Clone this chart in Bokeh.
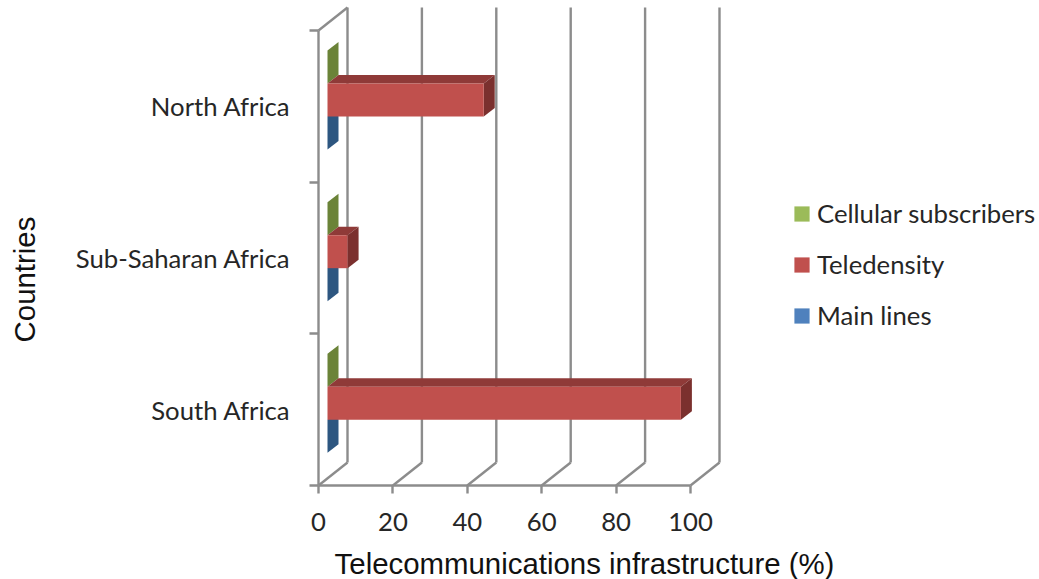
from math import pi
from bokeh.plotting import figure
from bokeh.models import (ColumnDataSource, FixedTicker, Label, Legend, LegendItem,
                          Range1d)
from bokeh.embed import file_html
from bokeh.resources import INLINE

categories = ["South Africa", "Sub-Saharan Africa", "North Africa"]
cellular = [0, 0, 0]
teledensity = [95, 5.4, 42]
main_lines = [0, 0, 0]
x_ticks = [0, 20, 40, 60, 80, 100]

PX_X = 100 / 372
PX_Y = 1 / 151.67
WALL_DX, WALL_DY = 29 * PX_X, 23 * PX_Y
BASE = 9 * PX_X
BAR_DX, BAR_DY = 11 * PX_X, 8.5 * PX_Y
BAR_H = 33 * PX_Y
MID_SHIFT = 6.3 * PX_Y
GRID = "#8c8c8c"
TEXT = "#262626"
SANS = "Lato"
LABEL_SIZE = "25.7px"

p = figure(width=1039, height=579, output_backend="svg", toolbar_location=None,
           x_range=Range1d(-318 * PX_X, 721 * PX_X), y_range=Range1d(-94 * PX_Y, 485 * PX_Y),
           min_border_left=0, min_border_right=0, min_border_top=0, min_border_bottom=0)
p.outline_line_color = None
p.grid.visible = False
p.background_fill_color = None

# walls and floor
n = len(categories)
p.segment([x for x in x_ticks], [0] * 6, [x + WALL_DX for x in x_ticks], [WALL_DY] * 6,
          line_color=GRID, line_width=2.4)
p.segment([x + WALL_DX for x in x_ticks], [WALL_DY] * 6,
          [x + WALL_DX for x in x_ticks], [n + WALL_DY] * 6, line_color=GRID, line_width=2.4)
p.segment([0], [n], [WALL_DX], [n + WALL_DY], line_color=GRID, line_width=2.4)


def bar(values, slot, front, top, side):
    left, right, bottom, upper = [], [], [], []
    for i, v in enumerate(values):
        c = i + 0.5 + MID_SHIFT + slot * BAR_H
        left.append(BASE)
        right.append(BASE + v)
        bottom.append(c - BAR_H / 2)
        upper.append(c + BAR_H / 2)
    p.patches([[l, r, r + BAR_DX, l + BAR_DX] for l, r in zip(left, right)],
              [[u, u, u + BAR_DY, u + BAR_DY] for u in upper],
              fill_color=top, line_color=None)
    p.patches([[r, r + BAR_DX, r + BAR_DX, r] for r in right],
              [[b, b + BAR_DY, u + BAR_DY, u] for b, u in zip(bottom, upper)],
              fill_color=side, line_color=None)
    src = ColumnDataSource(dict(left=left, right=right, bottom=bottom, top=upper))
    return p.quad(left="left", right="right", bottom="bottom", top="top", source=src,
                  fill_color=front, line_color=None)


r_cell = bar(cellular, 1, "#9BBB59", "#76923C", "#6B8338")
r_main = bar(main_lines, -1, "#4F81BD", "#366092", "#2D5680")
r_tele = bar(teledensity, 0, "#C0504D", "#8F3A38", "#7B302E")

# axes, pinned at the chart's origin
xa = p.xaxis[0]
xa.fixed_location = 0
xa.ticker = FixedTicker(ticks=x_ticks)
xa.bounds = (0, 100)
xa.axis_line_color = GRID
xa.axis_line_width = 2.4
xa.major_tick_line_color = GRID
xa.major_tick_line_width = 2.4
xa.major_tick_in = 0
xa.major_tick_out = 8
xa.minor_tick_line_color = None
xa.major_label_text_font = SANS
xa.major_label_text_font_size = LABEL_SIZE
xa.major_label_text_color = TEXT
xa.major_label_standoff = 19

ya = p.yaxis[0]
ya.fixed_location = 0
ya.ticker = FixedTicker(ticks=[i + 0.5 for i in range(n)], minor_ticks=list(range(n + 1)))
ya.major_label_overrides = {i + 0.5: c for i, c in enumerate(categories)}
ya.bounds = (0, n)
ya.axis_line_color = GRID
ya.axis_line_width = 2.4
ya.major_tick_line_color = None
ya.major_tick_in = 0
ya.major_tick_out = 0
ya.minor_tick_line_color = GRID
ya.minor_tick_line_width = 2.4
ya.minor_tick_in = 0
ya.minor_tick_out = 9
ya.major_label_text_font = SANS
ya.major_label_text_font_size = LABEL_SIZE
ya.major_label_text_color = TEXT
ya.major_label_standoff = 19

p.add_layout(Label(x=24, y=300, x_units="screen", y_units="screen", text="Countries",
                   angle=pi / 2, text_align="center", text_baseline="middle",
                   text_font="Liberation Sans", text_font_size="29.4px", text_color="#111111"))
p.add_layout(Label(x=584, y=16, x_units="screen", y_units="screen",
                   text="Telecommunications infrastructure (%)",
                   text_align="center", text_baseline="middle",
                   text_font="Liberation Sans", text_font_size="29.4px", text_color="#111111"))

legend = Legend(items=[LegendItem(label="Cellular subscribers", renderers=[r_cell]),
                       LegendItem(label="Teledensity", renderers=[r_tele]),
                       LegendItem(label="Main lines", renderers=[r_main])],
                location=(792, 249), orientation="vertical",
                glyph_width=19, glyph_height=19, label_standoff=6, spacing=21,
                padding=0, margin=0, border_line_color=None, background_fill_alpha=0,
                label_text_font=SANS, label_text_font_size=LABEL_SIZE, label_text_color=TEXT)
p.add_layout(legend, "center")

open("out.html", "w").write(file_html(p, INLINE))
